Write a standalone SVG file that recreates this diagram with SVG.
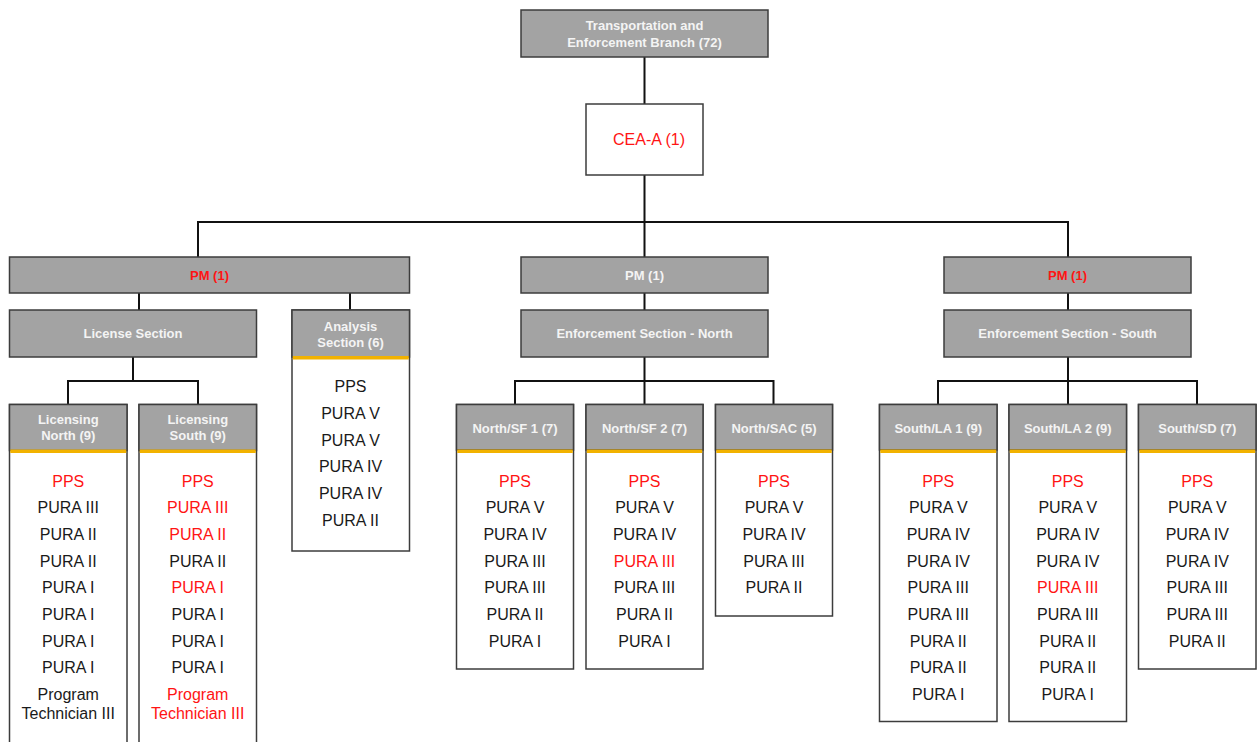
<svg xmlns="http://www.w3.org/2000/svg" width="1259" height="742" viewBox="0 0 1259 742">
<style>
.hd{fill:#a3a3a3;stroke:#3c3c3c;stroke-width:1.5}
.bx{fill:#ffffff;stroke:#3c3c3c;stroke-width:1.5}
.st{fill:#f2b200}
.ht{font-family:"Liberation Sans",Arial,sans-serif;font-weight:bold;font-size:13px;fill:#f4f4f4;text-anchor:middle}
.it{font-family:"Liberation Sans",Arial,sans-serif;font-size:16px;fill:#1a1a1a;text-anchor:middle}
.r{fill:#ff1414}
.cn{fill:none;stroke:#111;stroke-width:2}
</style>
<rect width="1259" height="742" fill="#fff"/>
<g id="connectors" class="cn">
<path d="M644.5 57V104M644.5 175V222M198 257V222H1068V257M644.5 222V257"/>
<path d="M139 293V310M350 293V310M133 357V381M68 404V381H198V404"/>
<path d="M644.5 293V310M644.5 357V404M515 404V381H773.5V404"/>
<path d="M1068 293V310M1068 357V404M938 404V381H1197V404"/>
</g>
<g id="branch">
<rect class="hd" x="521" y="10" width="247" height="47"/>
<text class="ht" x="644.5" y="29.5">Transportation and</text>
<text class="ht" x="644.5" y="46.5">Enforcement Branch (72)</text>
</g>
<g id="cea">
<rect class="bx" x="586" y="104" width="117" height="71"/>
<text class="it r" x="649" y="145">CEA-A (1)</text>
</g>
<g id="pm-left">
<rect class="hd" x="9.5" y="257" width="400" height="36"/>
<text class="ht r" x="209.5" y="279.5">PM (1)</text>
</g>
<g id="pm-mid">
<rect class="hd" x="521" y="257" width="247" height="36"/>
<text class="ht" x="644.5" y="279.5">PM (1)</text>
</g>
<g id="pm-right">
<rect class="hd" x="944" y="257" width="247" height="36"/>
<text class="ht r" x="1067.5" y="279.5">PM (1)</text>
</g>
<g id="license-section">
<rect class="hd" x="9.5" y="310" width="247" height="47"/>
<text class="ht" x="133" y="337.5">License Section</text>
</g>
<g id="enf-north">
<rect class="hd" x="521" y="310" width="247" height="47"/>
<text class="ht" x="644.5" y="337.5">Enforcement Section - North</text>
</g>
<g id="enf-south">
<rect class="hd" x="944" y="310" width="247" height="47"/>
<text class="ht" x="1067.5" y="337.5">Enforcement Section - South</text>
</g>
<g id="analysis">
<rect class="bx" x="292" y="310" width="117.5" height="241"/>
<rect class="hd" x="292" y="310" width="117.5" height="47"/>
<rect class="st" x="292.75" y="356" width="116" height="3.5"/>
<text class="ht" x="350.5" y="330.5">Analysis</text>
<text class="ht" x="350.5" y="346.5">Section (6)</text>
<text class="it" x="350.5" y="392">PPS</text>
<text class="it" x="350.5" y="419">PURA V</text>
<text class="it" x="350.5" y="445.5">PURA V</text>
<text class="it" x="350.5" y="472">PURA IV</text>
<text class="it" x="350.5" y="499">PURA IV</text>
<text class="it" x="350.5" y="525.5">PURA II</text>
</g>
<g id="lic-north">
<rect class="bx" x="9.5" y="404.5" width="117.5" height="350"/>
<rect class="hd" x="9.5" y="404.5" width="117.5" height="46"/>
<rect class="st" x="10.25" y="449.5" width="116" height="3.5"/>
<text class="ht" x="68.25" y="424">Licensing</text>
<text class="ht" x="68.25" y="439.5">North (9)</text>
<text class="it r" x="68.25" y="486.5">PPS</text>
<text class="it" x="68.25" y="513">PURA III</text>
<text class="it" x="68.25" y="540">PURA II</text>
<text class="it" x="68.25" y="566.5">PURA II</text>
<text class="it" x="68.25" y="593">PURA I</text>
<text class="it" x="68.25" y="620">PURA I</text>
<text class="it" x="68.25" y="646.5">PURA I</text>
<text class="it" x="68.25" y="673">PURA I</text>
<text class="it" x="68.25" y="700">Program</text>
<text class="it" x="68.25" y="719">Technician III</text>
</g>
<g id="lic-south">
<rect class="bx" x="139" y="404.5" width="117.5" height="350"/>
<rect class="hd" x="139" y="404.5" width="117.5" height="46"/>
<rect class="st" x="139.75" y="449.5" width="116" height="3.5"/>
<text class="ht" x="197.75" y="424">Licensing</text>
<text class="ht" x="197.75" y="439.5">South (9)</text>
<text class="it r" x="197.75" y="486.5">PPS</text>
<text class="it r" x="197.75" y="513">PURA III</text>
<text class="it r" x="197.75" y="540">PURA II</text>
<text class="it" x="197.75" y="566.5">PURA II</text>
<text class="it r" x="197.75" y="593">PURA I</text>
<text class="it" x="197.75" y="620">PURA I</text>
<text class="it" x="197.75" y="646.5">PURA I</text>
<text class="it" x="197.75" y="673">PURA I</text>
<text class="it r" x="197.75" y="700">Program</text>
<text class="it r" x="197.75" y="719">Technician III</text>
</g>
<g id="north-sf1">
<rect class="bx" x="456.5" y="404.5" width="117" height="264.5"/>
<rect class="hd" x="456.5" y="404.5" width="117" height="45.5"/>
<rect class="st" x="457.25" y="449.5" width="115.5" height="3.5"/>
<text class="ht" x="515" y="432.5">North/SF 1 (7)</text>
<text class="it r" x="515" y="486.5">PPS</text>
<text class="it" x="515" y="513">PURA V</text>
<text class="it" x="515" y="540">PURA IV</text>
<text class="it" x="515" y="566.5">PURA III</text>
<text class="it" x="515" y="593">PURA III</text>
<text class="it" x="515" y="620">PURA II</text>
<text class="it" x="515" y="646.5">PURA I</text>
</g>
<g id="north-sf2">
<rect class="bx" x="586" y="404.5" width="117" height="264.5"/>
<rect class="hd" x="586" y="404.5" width="117" height="45.5"/>
<rect class="st" x="586.75" y="449.5" width="115.5" height="3.5"/>
<text class="ht" x="644.5" y="432.5">North/SF 2 (7)</text>
<text class="it r" x="644.5" y="486.5">PPS</text>
<text class="it" x="644.5" y="513">PURA V</text>
<text class="it" x="644.5" y="540">PURA IV</text>
<text class="it r" x="644.5" y="566.5">PURA III</text>
<text class="it" x="644.5" y="593">PURA III</text>
<text class="it" x="644.5" y="620">PURA II</text>
<text class="it" x="644.5" y="646.5">PURA I</text>
</g>
<g id="north-sac">
<rect class="bx" x="715.5" y="404.5" width="117" height="211.5"/>
<rect class="hd" x="715.5" y="404.5" width="117" height="45.5"/>
<rect class="st" x="716.25" y="449.5" width="115.5" height="3.5"/>
<text class="ht" x="774" y="432.5">North/SAC (5)</text>
<text class="it r" x="774" y="486.5">PPS</text>
<text class="it" x="774" y="513">PURA V</text>
<text class="it" x="774" y="540">PURA IV</text>
<text class="it" x="774" y="566.5">PURA III</text>
<text class="it" x="774" y="593">PURA II</text>
</g>
<g id="south-la1">
<rect class="bx" x="879.5" y="404.5" width="117.5" height="317"/>
<rect class="hd" x="879.5" y="404.5" width="117.5" height="45.5"/>
<rect class="st" x="880.25" y="449.5" width="116" height="3.5"/>
<text class="ht" x="938.25" y="432.5">South/LA 1 (9)</text>
<text class="it r" x="938.25" y="486.5">PPS</text>
<text class="it" x="938.25" y="513">PURA V</text>
<text class="it" x="938.25" y="540">PURA IV</text>
<text class="it" x="938.25" y="566.5">PURA IV</text>
<text class="it" x="938.25" y="593">PURA III</text>
<text class="it" x="938.25" y="620">PURA III</text>
<text class="it" x="938.25" y="646.5">PURA II</text>
<text class="it" x="938.25" y="673">PURA II</text>
<text class="it" x="938.25" y="700">PURA I</text>
</g>
<g id="south-la2">
<rect class="bx" x="1009" y="404.5" width="117.5" height="317"/>
<rect class="hd" x="1009" y="404.5" width="117.5" height="45.5"/>
<rect class="st" x="1009.75" y="449.5" width="116" height="3.5"/>
<text class="ht" x="1067.75" y="432.5">South/LA 2 (9)</text>
<text class="it r" x="1067.75" y="486.5">PPS</text>
<text class="it" x="1067.75" y="513">PURA V</text>
<text class="it" x="1067.75" y="540">PURA IV</text>
<text class="it" x="1067.75" y="566.5">PURA IV</text>
<text class="it r" x="1067.75" y="593">PURA III</text>
<text class="it" x="1067.75" y="620">PURA III</text>
<text class="it" x="1067.75" y="646.5">PURA II</text>
<text class="it" x="1067.75" y="673">PURA II</text>
<text class="it" x="1067.75" y="700">PURA I</text>
</g>
<g id="south-sd">
<rect class="bx" x="1138.5" y="404.5" width="117.5" height="264.5"/>
<rect class="hd" x="1138.5" y="404.5" width="117.5" height="45.5"/>
<rect class="st" x="1139.25" y="449.5" width="116" height="3.5"/>
<text class="ht" x="1197.25" y="432.5">South/SD (7)</text>
<text class="it r" x="1197.25" y="486.5">PPS</text>
<text class="it" x="1197.25" y="513">PURA V</text>
<text class="it" x="1197.25" y="540">PURA IV</text>
<text class="it" x="1197.25" y="566.5">PURA IV</text>
<text class="it" x="1197.25" y="593">PURA III</text>
<text class="it" x="1197.25" y="620">PURA III</text>
<text class="it" x="1197.25" y="646.5">PURA II</text>
</g>
</svg>
